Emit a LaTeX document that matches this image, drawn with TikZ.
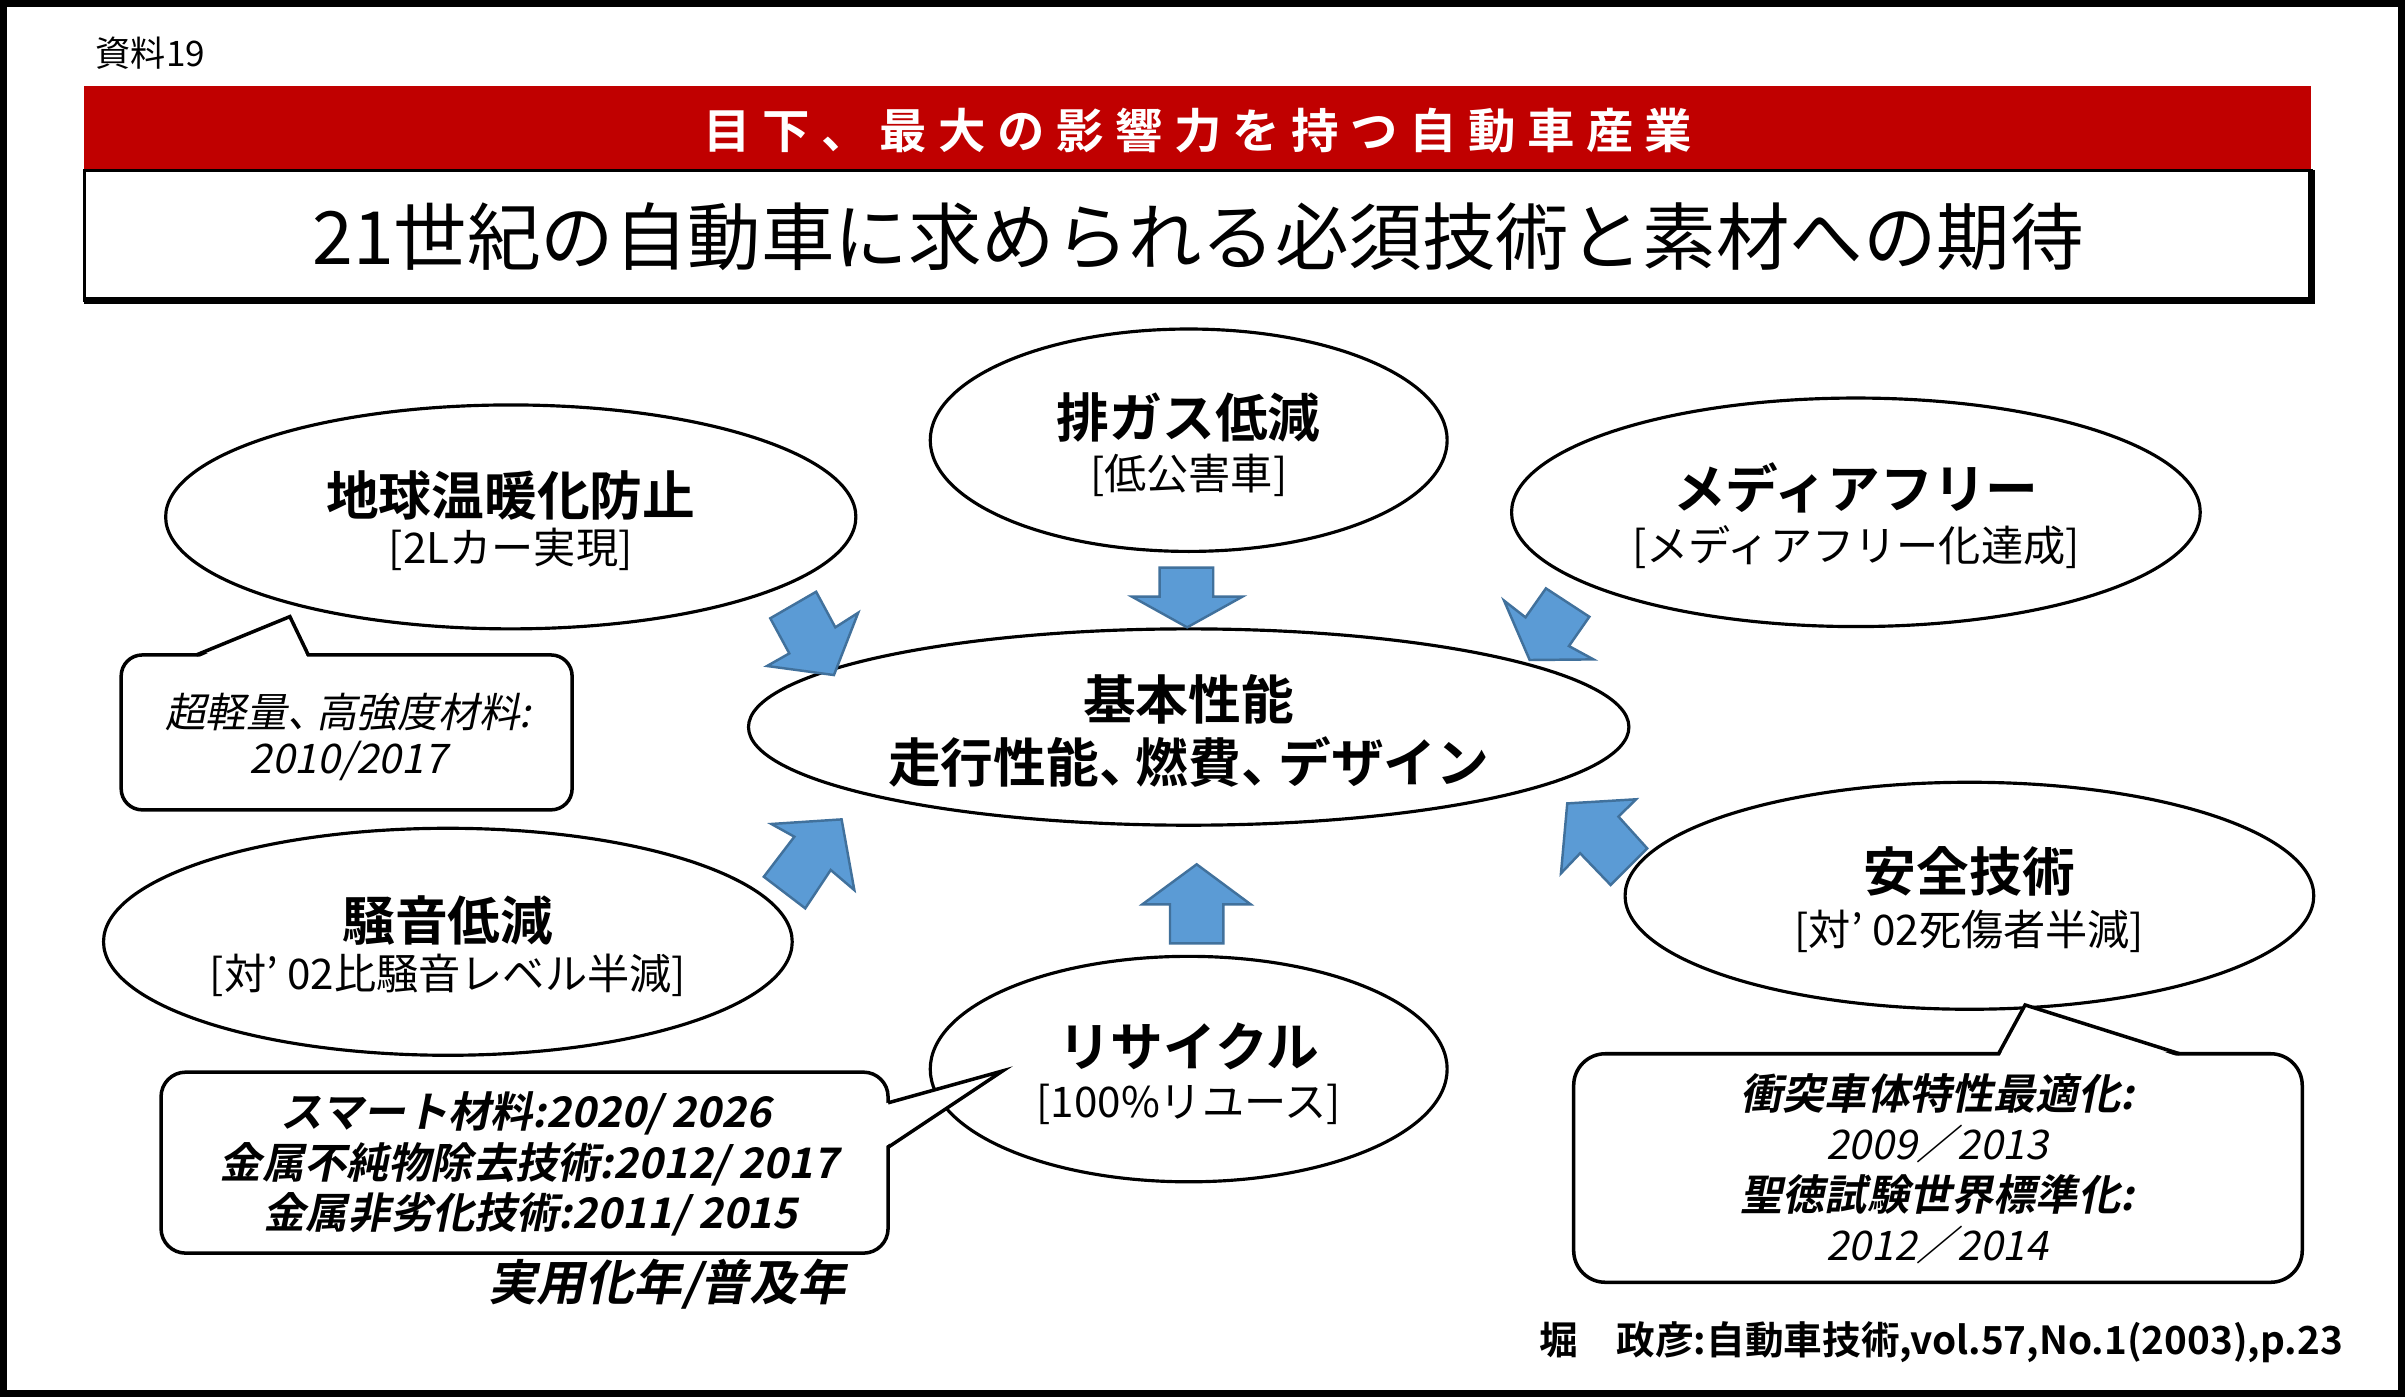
\documentclass[tikz,border=0pt]{standalone}
\usepackage{fontspec}
\usetikzlibrary{shapes.geometric}
\newfontfamily\jp[BoldFont={Noto Sans CJK JP Bold}]{Noto Sans CJK JP}
\newfontfamily\jpit[FakeSlant=0.2,BoldFont={Noto Sans CJK JP Bold},BoldFeatures={FakeSlant=0.2}]{Noto Sans CJK JP}
\newfontfamily\jpban[LetterSpace=24,BoldFont={Noto Sans CJK JP Bold},BoldFeatures={LetterSpace=24}]{Noto Sans CJK JP}
\definecolor{bannerred}{HTML}{C00000}
\definecolor{arrowblue}{HTML}{5B9BD5}
\definecolor{arrowedge}{HTML}{41719C}
\def\U{0.015338cm}
\begin{document}
\begin{tikzpicture}[x=0.015338cm,y=-0.015338cm,
  ell/.style={ellipse,draw,line width=0.9pt,fill=white,inner sep=0pt},
  blockarrow/.style={fill=arrowblue,draw=arrowedge,line width=0.7pt,line join=miter},
  callout/.style={draw,line width=1pt,fill=white,line join=miter},
  ttl/.style={inner sep=0pt,font=\jp\bfseries\fontsize{15pt}{18pt}\selectfont},
  sub/.style={inner sep=0pt,font=\jp\fontsize{12pt}{14pt}\selectfont},
  cit/.style={inner sep=0pt,font=\jpit\fontsize{11.6pt}{14pt}\selectfont},
  citb/.style={inner sep=0pt,font=\jpit\bfseries\fontsize{12pt}{14pt}\selectfont}]
\useasboundingbox (0,0) rectangle (1568,911);
\fill[white] (0,0) rectangle (1568,911);
\draw[line width=2pt] (2.3,2.3) rectangle (1565.7,908.7);

% header
\node[inner sep=0pt,anchor=west,font=\jp\fontsize{10pt}{12pt}\selectfont] (doc) at (62,35) {資料19};
\fill[bannerred] (55,56) rectangle (1507,111);
\node[inner sep=0pt,text=white,font=\jpban\bfseries\fontsize{13.5pt}{16pt}\selectfont] (banner) at (781,85) {目下、最大の影響力を持つ自動車産業};
\draw[line width=1pt] (55,111) rectangle (1507,196);
\draw[line width=2pt] (1507,111) -- (1507,196) -- (55,196);
\node[inner sep=0pt,font=\jp\fontsize{20.9pt}{24pt}\selectfont] (title) at (781,154) {21世紀の自動車に求められる必須技術と素材への期待};

% ellipses
\node[ell,minimum width=450*\U,minimum height=146*\U] (e1) at (333,337) {};
\node[ell,minimum width=337*\U,minimum height=145*\U] (e2) at (775,287) {};
\node[ell,minimum width=449*\U,minimum height=149*\U] (e3) at (1210,334) {};
\node[ell,minimum width=574*\U,minimum height=128*\U] (e4) at (775,474) {};
\node[ell,minimum width=449*\U,minimum height=148*\U] (e5) at (292,614) {};
\node[ell,minimum width=337*\U,minimum height=147*\U] (e6) at (775,697) {};
\node[ell,minimum width=449*\U,minimum height=148*\U] (e7) at (1284,584) {};

\node[ttl] (e1a) at (333,323) {地球温暖化防止};
\node[sub] (e1b) at (333,358) {[2Lカー実現]};
\node[ttl] (e2a) at (775,272) {排ガス低減};
\node[sub] (e2b) at (775,310) {[低公害車]};
\node[ttl] (e3a) at (1210,318) {メディアフリー};
\node[sub] (e3b) at (1210,357) {[メディアフリー化達成]};
\node[ttl] (e4a) at (775,456) {基本性能};
\node[ttl] (e4b) at (775,497) {走行性能、\kern-0.3em燃費、\kern-0.3emデザイン};
\node[ttl] (e5a) at (292,600) {騒音低減};
\node[sub] (e5b) at (292,636) {[対’ 02比騒音レベル半減]};
\node[ttl] (e6a) at (775,682) {リサイクル};
\node[sub] (e6b) at (775,720) {[100\%リユース]};
\node[ttl] (e7a) at (1284,568) {安全技術};
\node[sub] (e7b) at (1284,607) {[対’ 02死傷者半減]};

% block arrows
\draw[blockarrow] (756,370) -- (791,370) -- (791,389) -- (810,389) -- (774,409) -- (738,389) -- (756,389) -- cycle;
\draw[blockarrow] (762.8,615) -- (797.6,615) -- (797.6,589.6) -- (815.4,589.6) -- (780.2,563.5) -- (744.8,589.6) -- (762.8,589.6) -- cycle;
\draw[blockarrow] (502.2,403.1) -- (532.1,385.8) -- (544.6,409.0) -- (559.5,399.5) -- (543.7,440.1) -- (500.1,434.2) -- (514.6,426.0) -- cycle;
\draw[blockarrow] (1007.9,383.6) -- (1036.2,402.1) -- (1022.9,421.2) -- (1038.9,429.9) -- (997.3,430.3) -- (980.6,391.6) -- (994.6,402.5) -- cycle;
\draw[blockarrow] (525.0,592.2) -- (498.0,571.6) -- (517.9,545.5) -- (502.9,537.2) -- (548.7,534.2) -- (557.0,580.3) -- (541.6,567.2) -- cycle;
\draw[blockarrow] (1050.1,577.0) -- (1073.9,553.1) -- (1055.2,532.4) -- (1066.7,521.1) -- (1021.8,523.8) -- (1017.7,569.4) -- (1030.2,556.3) -- cycle;

% callouts
\draw[callout,rounded corners=6pt] (79,427) rectangle (373,528);
\fill[white] (128.5,429) -- (189,402) -- (200.5,429) -- cycle;
\draw[line width=1pt] (128,427) -- (189,402) -- (201,427);
\node[cit] (ca1) at (227,464) {超軽量、\kern-0.3em高強度材料:};
\node[cit] (ca2) at (227,496) {2010/2017};

\draw[callout,rounded corners=7pt] (105,699) rectangle (579,817);
\fill[white] (577,719.5) -- (653.7,698.2) -- (577,747.5) -- cycle;
\draw[line width=1pt] (579,719) -- (653.7,698.2) -- (579,748);
\node[citb] (cb1) at (343,726) {スマート材料:2020/ 2026};
\node[citb] (cb2) at (345,759) {金属不純物除去技術:2012/ 2017};
\node[citb] (cb3) at (346,792) {金属非劣化技術:2011/ 2015};
\node[inner sep=0pt,font=\jpit\bfseries\fontsize{13.8pt}{16pt}\selectfont] (yr) at (435,837) {実用化年/普及年};

\draw[callout,rounded corners=9pt] (1026,687) rectangle (1501,836);
\fill[white] (1303.5,689) -- (1320.3,655.2) -- (1420.5,689) -- cycle;
\draw[line width=1pt] (1303,687) -- (1320.3,655.2) -- (1421,687);
\node[citb] (cc1) at (1263,713) {衝突車体特性最適化:};
\node[cit] (cc2) at (1263,746) {2009／2013};
\node[citb] (cc3) at (1263,779) {聖徳試験世界標準化:};
\node[cit] (cc4) at (1263,812) {2012／2014};

\node[inner sep=0pt,anchor=east,font=\jp\bfseries\fontsize{11pt}{14pt}\selectfont] (src) at (1528,875) {堀　政彦:自動車技術,vol.57,No.1(2003),p.23};
\end{tikzpicture}
\end{document}
